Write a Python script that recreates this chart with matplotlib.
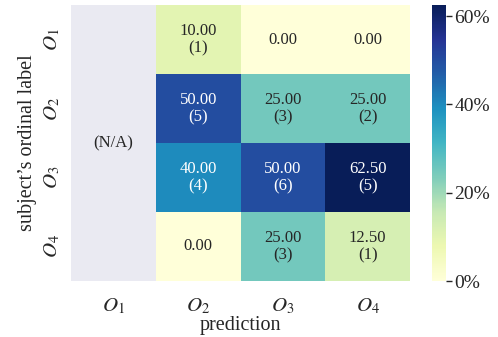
import numpy as np
import matplotlib
matplotlib.use("Agg")
import matplotlib.pyplot as plt

plt.rcParams['font.family'] = ['Liberation Serif', 'DejaVu Serif']
plt.rcParams['mathtext.fontset'] = 'stix'

row_labels = ['$O_1$', '$O_2$', '$O_3$', '$O_4$']
col_labels = ['$O_1$', '$O_2$', '$O_3$', '$O_4$']

# percentages for prediction O2..O4 (O1 column is N/A)
pct = np.array([
    [10.0, 0.0, 0.0],
    [50.0, 25.0, 25.0],
    [40.0, 50.0, 62.5],
    [0.0, 25.0, 12.5],
])
counts = np.array([
    [1, 0, 0],
    [5, 3, 2],
    [4, 6, 5],
    [0, 3, 1],
])

data = np.full((4, 4), np.nan)
data[:, 1:] = pct

fig = plt.figure(figsize=(4.98, 3.37), dpi=100)
ax = fig.add_axes([71/498, 56/337, 339/498, 276/337])
cax = fig.add_axes([432/498, 56/337, 14/498, 276/337])

ax.set_facecolor('#EAEAF2')
mesh = ax.pcolormesh(np.ma.masked_invalid(data), cmap='YlGnBu', vmin=0, vmax=62.5)
ax.set_xlim(0, 4)
ax.set_ylim(4, 0)
for s in ax.spines.values():
    s.set_visible(False)

for i in range(4):
    for j in range(3):
        v = pct[i, j]
        c = counts[i, j]
        txt = f'{v:.2f}' if c == 0 else f'{v:.2f}\n({c})'
        col = 'white' if v >= 40 else '#262626'
        ax.text(j + 1.5, i + 0.5, txt, ha='center', va='center',
                fontsize=12, color=col, linespacing=1.15)

ax.text(0.5, 2.0, '(N/A)', ha='center', va='center', fontsize=12, color='#262626')

ax.set_xticks(np.arange(4) + 0.5)
ax.set_xticklabels(col_labels, fontsize=15, color='#262626')
ax.set_yticks(np.arange(4) + 0.5)
ax.set_yticklabels(row_labels, fontsize=15, rotation=90, va='center', color='#262626')
ax.tick_params(axis='x', length=0, pad=11)
ax.tick_params(axis='y', length=0, pad=6)
ax.set_xlabel('prediction', fontsize=14.5, color='#262626', labelpad=0)
ax.set_ylabel("subject\u2019s ordinal label", fontsize=14.5, color='#262626', labelpad=4)

cb = fig.colorbar(mesh, cax=cax)
cb.outline.set_visible(False)
cb.set_ticks([0, 20, 40, 60])
cb.set_ticklabels(['0%', '20%', '40%', '60%'])
cax.tick_params(labelsize=14, length=4, width=1, colors='#262626', pad=2)

fig.savefig('out.png', dpi=100)
